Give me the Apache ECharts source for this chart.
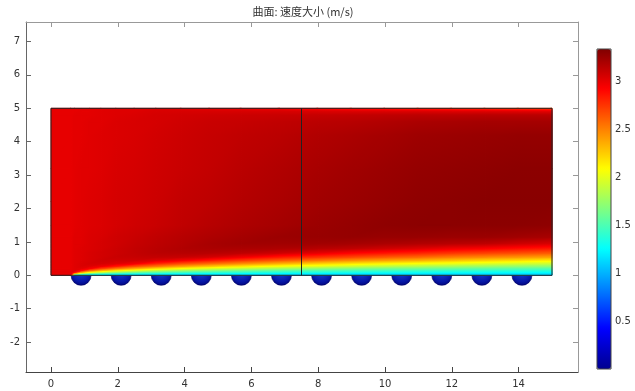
<!DOCTYPE html>
<html><head><meta charset="utf-8">
<script src="https://cdn.jsdelivr.net/npm/echarts@6/dist/echarts.min.js"></script>
<style>html,body{margin:0;padding:0;background:#fff}#c{width:635px;height:391px}</style>
</head><body><div id="c"></div>
<script>
// ---------- data ----------
const titleText = '曲面: 速度大小 (m/s)';
const xTicks = [0, 2, 4, 6, 8, 10, 12, 14];
const yTicks = [-2, -1, 0, 1, 2, 3, 4, 5, 6, 7];
const colorbarTicks = [0.5, 1, 1.5, 2, 2.5, 3];
const speedRange = [0, 3.34];

const domainX = [0, 15];
const domainY = [0, 5];
const interfaceX = [7.5];
const cylinderX = [0.9, 2.1, 3.3, 4.5, 5.7, 6.9, 8.1, 9.3, 10.5, 11.7, 12.9, 14.1];
const cylinderR = [0.3];

// surface: speed (m/s) sampled at nodes (nodeX[i], levelY[j])
const nodeX = [0, 0.6, 0.7, 0.9, 1.15, 1.5, 1.95, 2.5, 3.15, 3.9, 4.75, 5.7, 6.85, 8.0, 9.0, 10, 11, 12, 13, 14, 15];
const levelY = [0, 0.02, 0.05, 0.09, 0.14, 0.2, 0.27, 0.35, 0.45, 0.55, 0.67, 0.8, 0.95, 1.15, 1.5, 2.2, 3.2, 4.2, 4.6, 4.8, 4.92, 5.0];
const speed = [
  [3.0, 3.0, 3.0, 3.0, 3.0, 3.0, 3.0, 3.0, 3.0, 3.0, 3.0, 3.0, 3.0, 3.0, 3.0, 3.0, 3.0, 3.0, 3.0, 3.0, 3.0, 3.0],
  [3.0, 3.0, 3.0, 3.0, 3.0, 3.0, 3.0, 3.0, 3.0, 3.0, 3.0, 3.0, 3.0, 3.0, 3.0, 3.0, 3.0, 3.0, 3.0, 3.0, 3.0, 3.0],
  [1.05, 1.59, 2.39, 2.93, 3.02, 3.02, 3.02, 3.02, 3.02, 3.02, 3.02, 3.02, 3.02, 3.02, 3.01, 3.01, 3.01, 3.01, 3.01, 3.01, 3.0, 3.0],
  [1.05, 1.36, 1.86, 2.44, 2.89, 3.01, 3.04, 3.04, 3.03, 3.03, 3.03, 3.03, 3.02, 3.02, 3.02, 3.02, 3.02, 3.01, 3.01, 3.01, 3.01, 3.0],
  [1.05, 1.28, 1.64, 2.13, 2.59, 2.94, 3.03, 3.06, 3.05, 3.05, 3.05, 3.04, 3.04, 3.04, 3.03, 3.03, 3.02, 3.02, 3.02, 3.01, 3.01, 3.01],
  [1.05, 1.23, 1.51, 1.91, 2.35, 2.72, 2.98, 3.06, 3.08, 3.07, 3.07, 3.06, 3.06, 3.05, 3.04, 3.04, 3.03, 3.03, 3.02, 3.02, 3.02, 3.01],
  [1.05, 1.2, 1.43, 1.75, 2.14, 2.53, 2.85, 3.03, 3.08, 3.1, 3.09, 3.09, 3.08, 3.08, 3.06, 3.06, 3.05, 3.04, 3.04, 3.03, 3.03, 3.02],
  [1.05, 1.18, 1.37, 1.63, 1.99, 2.36, 2.68, 2.97, 3.08, 3.11, 3.12, 3.12, 3.11, 3.1, 3.08, 3.07, 3.06, 3.05, 3.05, 3.04, 3.03, 3.02],
  [1.05, 1.16, 1.33, 1.55, 1.86, 2.2, 2.54, 2.81, 3.04, 3.12, 3.15, 3.15, 3.14, 3.13, 3.1, 3.09, 3.08, 3.07, 3.06, 3.06, 3.05, 3.03],
  [1.05, 1.15, 1.29, 1.49, 1.76, 2.07, 2.4, 2.68, 2.97, 3.11, 3.16, 3.18, 3.17, 3.16, 3.13, 3.12, 3.1, 3.09, 3.08, 3.07, 3.05, 3.02],
  [1.05, 1.14, 1.27, 1.44, 1.68, 1.97, 2.28, 2.58, 2.86, 3.07, 3.16, 3.2, 3.21, 3.19, 3.16, 3.14, 3.12, 3.11, 3.1, 3.08, 3.05, 3.0],
  [1.05, 1.13, 1.25, 1.41, 1.61, 1.88, 2.17, 2.47, 2.75, 2.98, 3.14, 3.2, 3.23, 3.22, 3.19, 3.17, 3.15, 3.13, 3.11, 3.09, 3.05, 2.98],
  [1.05, 1.12, 1.23, 1.37, 1.55, 1.79, 2.06, 2.35, 2.64, 2.86, 3.09, 3.19, 3.23, 3.25, 3.22, 3.2, 3.18, 3.15, 3.13, 3.1, 3.05, 2.95],
  [1.05, 1.12, 1.21, 1.35, 1.51, 1.73, 1.99, 2.25, 2.55, 2.78, 3.01, 3.16, 3.23, 3.26, 3.25, 3.23, 3.21, 3.18, 3.15, 3.11, 3.04, 2.9],
  [1.05, 1.11, 1.2, 1.33, 1.48, 1.68, 1.92, 2.18, 2.47, 2.71, 2.93, 3.13, 3.22, 3.27, 3.27, 3.25, 3.23, 3.2, 3.16, 3.12, 3.03, 2.86],
  [1.05, 1.11, 1.2, 1.31, 1.46, 1.64, 1.87, 2.12, 2.41, 2.65, 2.87, 3.08, 3.2, 3.26, 3.29, 3.27, 3.25, 3.22, 3.18, 3.13, 3.03, 2.83],
  [1.05, 1.11, 1.19, 1.3, 1.44, 1.62, 1.83, 2.07, 2.36, 2.6, 2.82, 3.03, 3.18, 3.26, 3.3, 3.29, 3.27, 3.24, 3.2, 3.14, 3.03, 2.8],
  [1.05, 1.1, 1.18, 1.29, 1.42, 1.59, 1.79, 2.03, 2.3, 2.53, 2.76, 2.97, 3.16, 3.25, 3.3, 3.3, 3.28, 3.25, 3.21, 3.14, 3.02, 2.78],
  [1.05, 1.1, 1.18, 1.28, 1.41, 1.56, 1.76, 1.99, 2.25, 2.49, 2.72, 2.93, 3.14, 3.25, 3.3, 3.31, 3.29, 3.26, 3.22, 3.15, 3.02, 2.75],
  [1.05, 1.1, 1.17, 1.27, 1.39, 1.54, 1.73, 1.95, 2.21, 2.45, 2.68, 2.88, 3.09, 3.23, 3.3, 3.31, 3.3, 3.27, 3.22, 3.15, 3.01, 2.72],
  [1.05, 1.1, 1.17, 1.26, 1.38, 1.52, 1.71, 1.92, 2.16, 2.41, 2.64, 2.84, 3.05, 3.21, 3.29, 3.31, 3.3, 3.27, 3.22, 3.15, 3.0, 2.7]
];

// ---------- colour map (jet-like rainbow) ----------
const jetColors = ['#00008f', '#0000ff', '#0080ff', '#00ffff', '#80ff80', '#ffff00', '#ff8000', '#ff0000', '#800000'];
const jetRgb = jetColors.map(h => [parseInt(h.slice(1, 3), 16), parseInt(h.slice(3, 5), 16), parseInt(h.slice(5, 7), 16)]);
const span = speedRange[1] - speedRange[0];
function jet(v) {
  const t = Math.max(0, Math.min(1, (v - speedRange[0]) / span));
  const s = t * (jetRgb.length - 1);
  const i = Math.min(Math.floor(s), jetRgb.length - 2);
  const f = s - i, a = jetRgb[i], b = jetRgb[i + 1];
  return 'rgb(' + Math.round(a[0] + (b[0] - a[0]) * f) + ',' + Math.round(a[1] + (b[1] - a[1]) * f) + ',' + Math.round(a[2] + (b[2] - a[2]) * f) + ')';
}
// fill of a triangle whose speed varies linearly between its three corners
function triFill(p, v) {
  const vmin = Math.min(v[0], v[1], v[2]), vmax = Math.max(v[0], v[1], v[2]);
  if (vmax - vmin < 1e-6) return jet(vmin);
  const d1x = p[1][0] - p[0][0], d1y = p[1][1] - p[0][1];
  const d2x = p[2][0] - p[0][0], d2y = p[2][1] - p[0][1];
  const dv1 = v[1] - v[0], dv2 = v[2] - v[0];
  const det = d1x * d2y - d2x * d1y;
  if (Math.abs(det) < 1e-9) return jet((vmin + vmax) / 2);
  const gx = (dv1 * d2y - dv2 * d1y) / det;
  const gy = (d1x * dv2 - d2x * dv1) / det;
  const g2 = gx * gx + gy * gy;
  const sx = p[0][0] + gx * (vmin - v[0]) / g2, sy = p[0][1] + gy * (vmin - v[0]) / g2;
  const ex = p[0][0] + gx * (vmax - v[0]) / g2, ey = p[0][1] + gy * (vmax - v[0]) / g2;
  const stops = [{ offset: 0, color: jet(vmin) }];
  const n = jetRgb.length - 1;
  for (let k = 1; k < n; k++) {
    const bv = speedRange[0] + span * k / n;
    if (bv > vmin && bv < vmax) stops.push({ offset: (bv - vmin) / (vmax - vmin), color: jet(bv) });
  }
  stops.push({ offset: 1, color: jet(vmax) });
  return new echarts.graphic.LinearGradient(sx, sy, ex, ey, stops, true);
}

const cells = [];
for (let i = 0; i < nodeX.length - 1; i++) {
  for (let j = 0; j < levelY.length - 1; j++) {
    cells.push([nodeX[i], nodeX[i + 1], levelY[j], levelY[j + 1], i, j]);
  }
}
const strips = nodeX.slice(0, -1).map((x, i) => [x, nodeX[i + 1], domainY[0], domainY[1], i]);

const font = '"DejaVu Sans", sans-serif';
const chart = echarts.init(document.getElementById('c'), null, { renderer: 'canvas' });

const option = {
  animation: false,
  backgroundColor: '#ffffff',
  title: {
    text: titleText, left: 303, top: 6, textAlign: 'center', padding: 0,
    textStyle: { fontSize: 11, fontWeight: 'normal', color: '#333', fontFamily: '"Noto Sans CJK SC", "DejaVu Sans", sans-serif' }
  },
  grid: [
    { left: 26, top: 22, width: 552, height: 350, show: false },
    { left: 597, top: 49, width: 14, height: 320, show: true, borderColor: '#444', borderWidth: 1, backgroundColor: 'rgba(0,0,0,0)', z: 10 }
  ],
  visualMap: {
    type: 'continuous', min: speedRange[0], max: speedRange[1], left: 597, top: 49,
    itemWidth: 14, itemHeight: 320, orient: 'vertical', calculable: false, hoverLink: false,
    text: null, padding: 0, seriesIndex: [], inRange: { color: jetColors }
  },
  xAxis: [
    {
      type: 'value', gridIndex: 0, position: 'bottom', min: -0.7485, max: 15.778,
      axisLine: { show: true, onZero: false, lineStyle: { color: '#444', width: 1 } },
      axisTick: { show: true, inside: true, length: 5, customValues: xTicks, lineStyle: { color: '#444' } },
      axisLabel: { customValues: xTicks, color: '#333', fontSize: 10, fontFamily: font, margin: 7 },
      splitLine: { show: false }
    },
    {
      type: 'value', gridIndex: 0, position: 'top', min: -0.7485, max: 15.778,
      axisLine: { show: true, onZero: false, lineStyle: { color: '#999', width: 1 } },
      axisTick: { show: true, inside: true, length: 5, customValues: xTicks, lineStyle: { color: '#999' } },
      axisLabel: { show: false }, splitLine: { show: false }
    },
    { type: 'value', gridIndex: 1, show: false, min: 0, max: 1 }
  ],
  yAxis: [
    {
      type: 'value', gridIndex: 0, position: 'left', min: -2.895, max: 7.584,
      axisLine: { show: true, onZero: false, lineStyle: { color: '#666', width: 1 } },
      axisTick: { show: true, inside: true, length: 5, customValues: yTicks, lineStyle: { color: '#666' } },
      axisLabel: { customValues: yTicks, color: '#333', fontSize: 10, fontFamily: font, margin: 6 },
      splitLine: { show: false }
    },
    {
      type: 'value', gridIndex: 0, position: 'right', min: -2.895, max: 7.584,
      axisLine: { show: true, onZero: false, lineStyle: { color: '#999', width: 1 } },
      axisTick: { show: true, inside: true, length: 5, customValues: yTicks, lineStyle: { color: '#999' } },
      axisLabel: { show: false }, splitLine: { show: false }
    },
    {
      type: 'value', gridIndex: 1, position: 'right', min: speedRange[0], max: speedRange[1],
      axisLine: { show: false },
      axisTick: { show: true, inside: false, length: 3, customValues: colorbarTicks, lineStyle: { color: '#555' } },
      axisLabel: { customValues: colorbarTicks, color: '#333', fontSize: 10, fontFamily: font, margin: 4 },
      splitLine: { show: false }
    }
  ],
  series: [
    {
      // cylinders below the plate
      type: 'custom', xAxisIndex: 0, yAxisIndex: 0, silent: true,
      data: cylinderX.map(x => [x, domainY[0]]),
      encode: { x: 0, y: 1 },
      renderItem: function (params, api) {
        const c = api.coord([api.value(0), api.value(1)]);
        const r = api.size([cylinderR[0], 0])[0];
        return {
          type: 'circle', shape: { cx: c[0], cy: c[1], r: r },
          style: {
            fill: new echarts.graphic.RadialGradient(0.5, 0.35, 0.7, [
              { offset: 0, color: '#1a40d0' }, { offset: 0.65, color: '#0718a8' }, { offset: 1, color: '#000070' }
            ]),
            stroke: '#000060', lineWidth: 0.6
          }
        };
      }
    },
    {
      // underlay: vertical strips shaded by the node profiles (hides anti-alias seams)
      type: 'custom', xAxisIndex: 0, yAxisIndex: 0, silent: true,
      data: strips,
      encode: { x: [0, 1], y: [2, 3] },
      renderItem: function (params, api) {
        const i = api.value(4);
        const y0 = api.value(2), y1 = api.value(3);
        const tl = api.coord([api.value(0), y1]);
        const br = api.coord([api.value(1), y0]);
        const stops = [];
        for (let j = levelY.length - 1; j >= 0; j--) {
          stops.push({ offset: (y1 - levelY[j]) / (y1 - y0), color: jet((speed[i][j] + speed[i + 1][j]) / 2) });
        }
        return {
          type: 'rect',
          shape: { x: tl[0], y: tl[1], width: br[0] - tl[0] + 0.6, height: br[1] - tl[1] },
          style: { fill: new echarts.graphic.LinearGradient(0, 0, 0, 1, stops) }
        };
      }
    },
    {
      // velocity surface: each grid cell drawn as two linearly shaded triangles
      type: 'custom', xAxisIndex: 0, yAxisIndex: 0, silent: true,
      data: cells,
      encode: { x: [0, 1], y: [2, 3] },
      renderItem: function (params, api) {
        const i = api.value(4), j = api.value(5);
        const p00 = api.coord([api.value(0), api.value(2)]);
        const p10 = api.coord([api.value(1), api.value(2)]);
        const p01 = api.coord([api.value(0), api.value(3)]);
        const p11 = api.coord([api.value(1), api.value(3)]);
        const v00 = speed[i][j], v10 = speed[i + 1][j], v01 = speed[i][j + 1], v11 = speed[i + 1][j + 1];
        const f1 = triFill([p00, p10, p11], [v00, v10, v11]);
        const f2 = triFill([p00, p11, p01], [v00, v11, v01]);
        return {
          type: 'group',
          children: [
            { type: 'polygon', shape: { points: [p00, p10, p11] }, style: { fill: f1, stroke: f1, lineWidth: 0.8 } },
            { type: 'polygon', shape: { points: [p00, p11, p01] }, style: { fill: f2, stroke: f2, lineWidth: 0.8 } }
          ]
        };
      }
    },
    {
      // domain outline
      type: 'custom', xAxisIndex: 0, yAxisIndex: 0, silent: true,
      data: [[domainX[0], domainX[1], domainY[0], domainY[1]]],
      encode: { x: [0, 1], y: [2, 3] },
      renderItem: function (params, api) {
        const tl = api.coord([api.value(0), api.value(3)]);
        const br = api.coord([api.value(1), api.value(2)]);
        return {
          type: 'rect', shape: { x: tl[0], y: tl[1], width: br[0] - tl[0], height: br[1] - tl[1] },
          style: { fill: 'none', stroke: '#222', lineWidth: 1 }
        };
      }
    },
    {
      // interior boundary
      type: 'custom', xAxisIndex: 0, yAxisIndex: 0, silent: true,
      data: interfaceX.map(x => [x, domainY[0], domainY[1]]),
      encode: { x: 0, y: [1, 2] },
      renderItem: function (params, api) {
        const a = api.coord([api.value(0), api.value(1)]);
        const b = api.coord([api.value(0), api.value(2)]);
        return {
          type: 'line', shape: { x1: a[0], y1: a[1], x2: b[0], y2: b[1] },
          style: { stroke: '#222', lineWidth: 1 }
        };
      }
    }
  ]
};
chart.setOption(option);
</script>
</body></html>
